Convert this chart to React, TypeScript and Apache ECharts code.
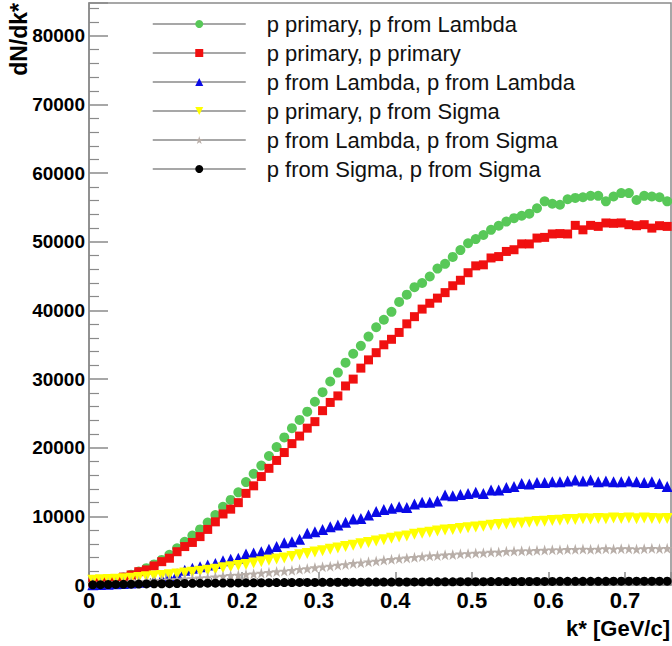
import React, { useEffect, useRef } from 'react';
import * as echarts from 'echarts';

// bin centres of k* [GeV/c]
const kStar = [
  0.005, 0.015, 0.025, 0.035, 0.045, 0.055, 0.065, 0.075, 0.085, 0.095,
  0.105, 0.115, 0.125, 0.135, 0.145, 0.155, 0.165, 0.175, 0.185, 0.195,
  0.205, 0.215, 0.225, 0.235, 0.245, 0.255, 0.265, 0.275, 0.285, 0.295,
  0.305, 0.315, 0.325, 0.335, 0.345, 0.355, 0.365, 0.375, 0.385, 0.395,
  0.405, 0.415, 0.425, 0.435, 0.445, 0.455, 0.465, 0.475, 0.485, 0.495,
  0.505, 0.515, 0.525, 0.535, 0.545, 0.555, 0.565, 0.575, 0.585, 0.595,
  0.605, 0.615, 0.625, 0.635, 0.645, 0.655, 0.665, 0.675, 0.685, 0.695,
  0.705, 0.715, 0.725, 0.735, 0.745, 0.755,
];

const primaryLambda = [
  350, 450, 600, 800, 1100, 1500, 1950, 2450, 3000, 3650,
  4400, 5350, 6300, 7200, 8100, 9100, 10200, 11400, 12400, 13500,
  15000, 16200, 17400, 18800, 20100, 21500, 22850, 24050, 25250, 26700,
  28100, 29650, 30950, 32400, 33700, 34850, 36200, 37550, 38650, 39800,
  41250, 42300, 43400, 44000, 44950, 46100, 46800, 47800, 48800, 49800,
  50400, 51000, 51750, 52350, 52950, 53450, 53800, 54100, 54900, 55900,
  55550, 55400, 56200, 56400, 56500, 56700, 56700, 55900, 56600, 57100,
  57100, 56100, 56700, 56600, 56500, 55900,
];

const primaryPrimary = [
  300, 450, 650, 850, 1150, 1460, 1940, 2200, 2770, 3400,
  3900, 4850, 5600, 6200, 7050, 8100, 9200, 10350, 11050, 12000,
  13350, 14450, 15800, 17000, 18150, 19300, 20600, 21700, 22850, 23800,
  25400, 26600, 27550, 29000, 30000, 31600, 32800, 33850, 35000, 35800,
  36800, 38050, 39100, 40200, 41050, 41800, 42600, 43600, 44400, 45500,
  46500, 46650, 47650, 47850, 48600, 48850, 49700, 49700, 50550, 50650,
  51150, 51200, 51150, 52400, 51750, 52400, 52250, 52750, 52700, 52750,
  52500, 52350, 52500, 52000, 52350, 52250,
];

const lambdaLambda = [
  50, 80, 120, 170, 230, 300, 400, 520, 700, 950,
  1200, 1650, 2150, 2450, 2650, 2900, 3150, 3550, 3750, 3900,
  4500, 4650, 4850, 5200, 5600, 6150, 6300, 6650, 7550, 7750,
  8100, 8500, 8750, 9150, 9600, 9700, 10200, 10700, 11000, 11200,
  11400, 11300, 11800, 12050, 12050, 12250, 13100, 13000, 13200, 13350,
  13500, 13350, 13850, 13850, 14200, 14350, 14800, 14700, 14950, 14950,
  15050, 15050, 15150, 15300, 15150, 15300, 15050, 15150, 15050, 15050,
  15150, 15050, 14950, 15050, 14800, 14350,
];

const primarySigma = [
  700, 750, 800, 850, 900, 1000, 1100, 1200, 1300, 1400,
  1500, 1600, 1750, 1850, 2000, 2150, 2300, 2500, 2650, 2850,
  3000, 3200, 3400, 3600, 3800, 3950, 4150, 4400, 4600, 4800,
  5000, 5200, 5400, 5600, 5800, 6000, 6200, 6400, 6600, 6800,
  7000, 7150, 7400, 7550, 7700, 7850, 8000, 8100, 8250, 8350,
  8450, 8550, 8700, 8800, 8900, 9000, 9050, 9150, 9250, 9300,
  9400, 9450, 9550, 9550, 9650, 9600, 9700, 9650, 9750, 9700,
  9750, 9650, 9750, 9700, 9650, 9700,
];

const lambdaSigma = [
  250, 280, 300, 350, 400, 450, 500, 550, 600, 700,
  750, 800, 900, 950, 1050, 1100, 1200, 1300, 1400, 1450,
  1550, 1650, 1750, 1850, 1950, 2050, 2150, 2300, 2400, 2550,
  2650, 2750, 2900, 3000, 3150, 3250, 3400, 3500, 3650, 3750,
  3850, 3950, 4050, 4150, 4250, 4300, 4400, 4450, 4550, 4600,
  4650, 4700, 4800, 4800, 4900, 4950, 5000, 5000, 5050, 5100,
  5150, 5150, 5200, 5200, 5250, 5200, 5250, 5300, 5250, 5300,
  5300, 5250, 5300, 5350, 5300, 5350,
];

const sigmaSigma = [
  30, 50, 70, 90, 100, 120, 140, 150, 170, 180,
  200, 210, 220, 240, 250, 260, 270, 280, 290, 300,
  310, 320, 330, 340, 350, 350, 360, 370, 370, 380,
  390, 390, 400, 400, 410, 410, 420, 420, 430, 430,
  440, 440, 450, 450, 460, 460, 470, 470, 480, 480,
  490, 490, 500, 500, 500, 510, 510, 510, 520, 520,
  520, 530, 530, 530, 540, 540, 540, 540, 550, 550,
  550, 550, 550, 560, 560, 560,
];

const seriesNames = [
  'p primary, p from Lambda',
  'p primary, p primary',
  'p from Lambda, p from Lambda',
  'p primary, p from Sigma',
  'p from Lambda, p from Sigma',
  'p from Sigma, p from Sigma',
];

const yTitle = 'dN/dk*';
const xTitle = 'k* [GeV/c]';

const STAR = 'path://M50,0 L61,35 L98,35 L68,57 L79,91 L50,70 L21,91 L32,57 L2,35 L39,35 Z';

export default function App() {
  const ref = useRef<HTMLDivElement>(null);

  useEffect(() => {
    if (!ref.current) return;
    const chart = echarts.init(ref.current, null, { renderer: 'svg' });
    const font = '"Liberation Sans", Arial, Helvetica, sans-serif';
    const axisGray = '#8a8a8a';

    const mk = (
      name: string,
      values: number[],
      color: string,
      symbol: string,
      size: number,
      rotate = 0
    ) => ({
      name,
      type: 'line',
      data: kStar.map((k, i) => [k, values[i]]),
      symbol,
      symbolSize: size,
      symbolRotate: rotate,
      showAllSymbol: true,
      itemStyle: { color, opacity: 1 },
      lineStyle: { opacity: 0, width: 0 },
      emphasis: { disabled: true },
      silent: true,
    });

    chart.setOption({
      animation: false,
      backgroundColor: '#ffffff',
      grid: {
        left: 89,
        right: 1,
        top: 3,
        bottom: 61,
        show: true,
        borderColor: axisGray,
        borderWidth: 1.5,
        containLabel: false,
        outerBoundsMode: 'none',
      },
      legend: {
        orient: 'vertical',
        left: 152,
        top: 13,
        padding: 0,
        itemGap: 7,
        itemWidth: 93,
        itemHeight: 10,
        selectedMode: false,
        data: seriesNames,
        lineStyle: { color: axisGray, width: 1.5, opacity: 1 },
        textStyle: {
          fontSize: 22,
          fontFamily: font,
          color: '#111',
          lineHeight: 22,
          padding: [0, 0, 0, 16],
        },
      },
      xAxis: {
        type: 'value',
        min: 0,
        max: 0.76,
        interval: 0.1,
        axisLine: { show: true, onZero: false, lineStyle: { color: axisGray, width: 1.5 } },
        axisTick: { show: true, inside: true, length: 13, lineStyle: { color: axisGray, width: 1.5 } },
        minorTick: { show: true, splitNumber: 5, length: 7, lineStyle: { color: axisGray, width: 1.2 } },
        splitLine: { show: false },
        axisLabel: {
          fontSize: 22,
          fontWeight: 'bold',
          fontFamily: font,
          color: '#000',
          margin: 4,
          showMaxLabel: false,
          formatter: (v: number) => (v === 0 ? '0' : v.toFixed(1)),
        },
      },
      yAxis: {
        type: 'value',
        min: 0,
        max: 84800,
        interval: 10000,
        axisLine: { show: true, onZero: false, lineStyle: { color: axisGray, width: 1.5 } },
        axisTick: { show: true, inside: true, length: 19, lineStyle: { color: axisGray, width: 1.5 } },
        minorTick: { show: true, splitNumber: 5, length: 10, lineStyle: { color: axisGray, width: 1.2 } },
        splitLine: { show: false },
        axisLabel: {
          fontSize: 19,
          fontWeight: 'bold',
          fontFamily: font,
          color: '#000',
          margin: 4,
          showMaxLabel: false,
          formatter: (v: number) => String(Math.round(v)),
        },
      },
      graphic: [
        {
          type: 'text',
          x: 19,
          y: 3,
          rotation: Math.PI / 2,
          silent: true,
          style: {
            text: yTitle,
            fontSize: 23,
            fontWeight: 'bold',
            fontFamily: font,
            fill: '#000',
            align: 'right',
            verticalAlign: 'middle',
          },
        },
        {
          type: 'text',
          x: 670,
          y: 628,
          silent: true,
          style: {
            text: xTitle,
            fontSize: 22,
            fontWeight: 'bold',
            fontFamily: font,
            fill: '#000',
            align: 'right',
            verticalAlign: 'middle',
          },
        },
      ],
      series: [
        mk(seriesNames[0], primaryLambda, '#58c858', 'circle', 10),
        mk(seriesNames[1], primaryPrimary, '#f01010', 'rect', 9),
        mk(seriesNames[2], lambdaLambda, '#0a0ae6', 'triangle', 11),
        mk(seriesNames[3], primarySigma, '#ffff00', 'triangle', 11, 180),
        mk(seriesNames[4], lambdaSigma, '#b8aea8', STAR, 11),
        mk(seriesNames[5], sigmaSigma, '#000000', 'circle', 9),
      ],
    });

    return () => {
      chart.dispose();
    };
  }, []);

  return (
    <div
      ref={ref}
      style={{ position: 'fixed', left: 0, top: 0, width: 672, height: 646, background: '#fff' }}
    />
  );
}
